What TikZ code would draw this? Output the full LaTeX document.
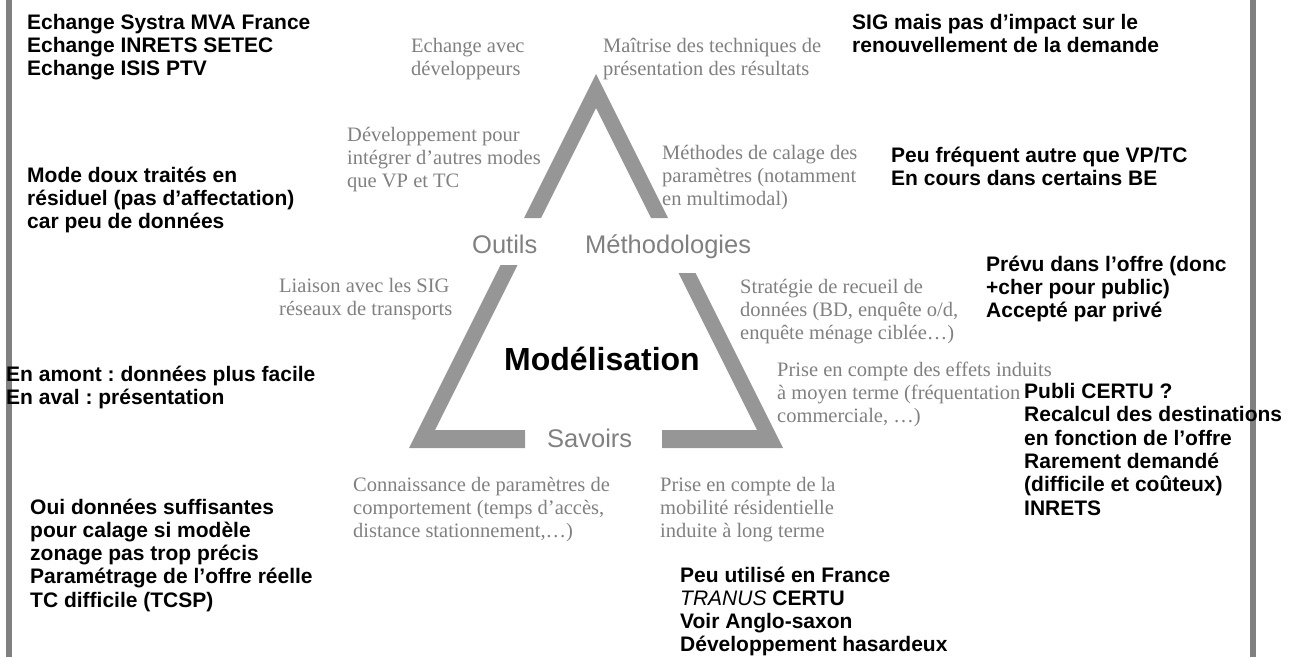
\documentclass[tikz,border=0pt]{standalone}
\usepackage{fontspec}
\setmainfont{Liberation Serif}
\newfontfamily\arialf{Liberation Sans}
\definecolor{txtgray}{RGB}{128,128,128}
\definecolor{trigray}{RGB}{150,150,150}
\definecolor{bargray}{RGB}{128,128,128}
\frenchspacing
\begin{document}
\begin{tikzpicture}[x=1pt,y=-1pt,
  blk/.style={inner sep=0pt, anchor=base west, align=left, font=\frenchspacing\arialf\bfseries\fontsize{21}{23.3}\selectfont, text=black},
  gry/.style={inner sep=0pt, anchor=base west, align=left, font=\fontsize{20.5}{23.3}\selectfont, text=txtgray},
  lbl/.style={inner sep=0pt, anchor=base west, font=\arialf\fontsize{25.5}{28}\selectfont, text=txtgray},
  tri/.style={fill=trigray, draw=none},
  bar/.style={fill=bargray, draw=none}]
\useasboundingbox (0,0) rectangle (1300,657);
% side bars
\fill[bar] (6,0) rectangle (12,657);
\fill[bar] (1250,0) rectangle (1256,657);
% triangle pieces
\fill[tri] (596,74) -- (668,218) -- (651,218) -- (596,108) -- (541,218) -- (524,218) -- cycle;
\fill[tri] (500.5,265) -- (517.5,265) -- (435,430) -- (525,430) -- (525,448) -- (409,448) -- cycle;
\fill[tri] (678.5,273) -- (695.5,273) -- (783,448) -- (662,448) -- (662,430) -- (757,430) -- cycle;
% labels
\node[lbl] (outils) at (472,253) {Outils};
\node[lbl] (metho) at (585,253) {Méthodologies};
\node[lbl] (savoirs) at (547,447) {Savoirs};
\node[inner sep=0pt, anchor=base west, font=\arialf\bfseries\fontsize{32}{36}\selectfont] (model) at (504,370) {Modélisation};
% gray serif texts (anchor = baseline of last line)
\node[gry] (g1) at (411,75.3) {Echange avec\\développeurs};
\node[gry] (g2) at (603,75.3) {Maîtrise des techniques de\\présentation des résultats};
\node[gry] (g3) at (347,187.6) {Développement pour\\intégrer d’autres modes\\que VP et TC};
\node[gry] (g4) at (662,205.6) {Méthodes de calage des\\paramètres (notamment\\en multimodal)};
\node[gry] (g5) at (279,315.3) {Liaison avec les SIG\\réseaux de transports};
\node[gry] (g6) at (740,339.6) {Stratégie de recueil de\\données (BD, enquête o/d,\\enquête ménage ciblée…)};
\node[gry] (g7) at (777,422.6) {Prise en compte des effets induits\\à moyen terme (fréquentation\\commerciale, …)};
\node[gry] (g8) at (353,537.6) {Connaissance de paramètres de\\comportement (temps d’accès,\\distance stationnement,…)};
\node[gry] (g9) at (660,537.6) {Prise en compte de la\\mobilité résidentielle\\induite à long terme};
% black comments
\node[blk] (b1) at (27,75.6) {Echange Systra MVA France\\Echange INRETS SETEC\\Echange ISIS PTV};
\node[blk] (b2) at (27,228.6) {Mode doux traités en\\résiduel (pas d’affectation)\\car peu de données};
\node[blk] (b3) at (6,404.3) {En amont : données plus facile\\En aval : présentation};
\node[blk] (b4) at (30,607.2) {Oui données suffisantes\\pour calage si modèle\\zonage pas trop précis\\Paramétrage de l’offre réelle\\TC difficile (TCSP)};
\node[blk] (b5) at (852,52.3) {SIG mais pas d’impact sur le\\renouvellement de la demande};
\node[blk] (b6) at (891,185.3) {Peu fréquent autre que VP/TC\\En cours dans certains BE};
\node[blk] (b7) at (986,317.6) {Prévu dans l’offre (donc\\+cher pour public)\\Accepté par privé};
\node[blk] (b8) at (1024,515) {Publi CERTU ?\\Recalcul des destinations\\en fonction de l’offre\\Rarement demandé\\(difficile et coûteux)\\INRETS};
\node[blk] (b9) at (680,651.9) {Peu utilisé en France\\{\fontseries{m}\itshape TRANUS} CERTU\\Voir Anglo-saxon\\Développement hasardeux};
\end{tikzpicture}
\end{document}
